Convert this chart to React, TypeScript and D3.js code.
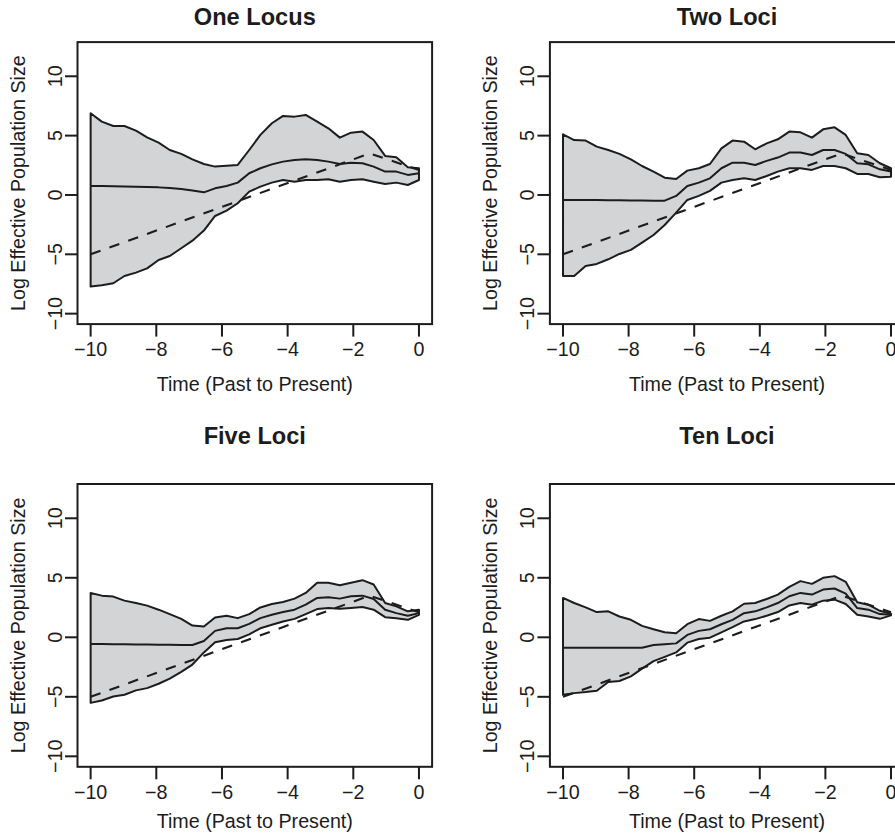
import * as d3 from "d3";

// shared time grid of the estimates (past to present)
const xGrid = [
  -10, -9.66, -9.31, -8.97, -8.62, -8.28, -7.93, -7.59, -7.24, -6.9, -6.55, -6.21, -5.86, -5.52, -5.17,
  -4.83, -4.48, -4.14, -3.79, -3.45, -3.1, -2.76, -2.41, -2.07, -1.72, -1.38, -1.03, -0.69, -0.34, 0,
];

const oneUpper = [
  6.88, 6.18, 5.81, 5.81, 5.42, 4.86, 4.41, 3.79, 3.46, 3.0, 2.61, 2.39, 2.47, 2.53, 3.79,
  5.06, 6.04, 6.66, 6.6, 6.74, 6.18, 5.62, 4.83, 5.25, 5.34, 4.63, 3.29, 3.17, 2.33, 2.25,
];
const oneMedian = [
  0.76, 0.75, 0.74, 0.72, 0.7, 0.67, 0.64, 0.58, 0.5, 0.38, 0.22, 0.56, 0.76, 1.04, 1.83,
  2.25, 2.58, 2.81, 2.95, 3.0, 2.95, 2.81, 2.61, 2.72, 2.67, 2.39, 1.97, 1.97, 1.69, 1.83,
];
const oneLower = [
  -7.72, -7.61, -7.44, -6.83, -6.54, -6.18, -5.48, -5.14, -4.49, -3.85, -3.0, -1.77, -1.32, -0.7, 0.28,
  0.7, 1.04, 1.26, 1.12, 1.26, 1.26, 1.32, 1.12, 1.26, 1.32, 1.12, 0.93, 1.04, 0.84, 1.26,
];

const twoUpper = [
  5.11, 4.63, 4.58, 4.07, 3.79, 3.46, 3.0, 2.44, 1.97, 1.46, 1.35, 2.05, 2.25, 2.61, 3.93,
  4.58, 4.49, 3.85, 4.35, 4.69, 5.34, 5.28, 4.83, 5.53, 5.7, 5.06, 3.51, 3.37, 2.67, 2.25,
];
const twoMedian = [
  -0.42, -0.42, -0.43, -0.43, -0.44, -0.45, -0.46, -0.47, -0.48, -0.48, -0.08, 0.76, 1.04, 1.4, 2.25,
  2.72, 2.72, 2.53, 2.87, 3.15, 3.57, 3.57, 3.37, 3.79, 3.79, 3.46, 2.67, 2.58, 2.16, 1.97,
];
const twoLower = [
  -6.83, -6.83, -5.98, -5.81, -5.42, -4.97, -4.63, -4.02, -3.37, -2.53, -1.49, -0.42, -0.08, 0.34, 1.04,
  1.26, 1.4, 1.26, 1.6, 1.97, 2.25, 2.25, 2.11, 2.44, 2.44, 2.25, 1.77, 1.77, 1.49, 1.54,
];

const fiveUpper = [
  3.73, 3.5, 3.42, 3.08, 2.88, 2.66, 2.32, 1.95, 1.55, 0.99, 0.9, 1.67, 1.81, 1.61, 1.95,
  2.51, 2.8, 2.97, 3.25, 3.73, 4.58, 4.58, 4.38, 4.58, 4.8, 4.44, 2.88, 2.6, 2.18, 2.32,
];
const fiveMedian = [
  -0.56, -0.57, -0.58, -0.59, -0.6, -0.61, -0.62, -0.63, -0.64, -0.65, -0.31, 0.54, 0.76, 0.76, 1.13,
  1.61, 1.89, 2.12, 2.32, 2.74, 3.31, 3.36, 3.25, 3.45, 3.5, 3.22, 2.32, 2.03, 1.81, 2.03,
];
const fiveLower = [
  -5.51, -5.31, -4.97, -4.83, -4.46, -4.27, -3.9, -3.47, -2.91, -2.29, -1.27, -0.42, -0.23, -0.14, 0.25,
  0.76, 1.05, 1.33, 1.55, 1.95, 2.37, 2.46, 2.4, 2.46, 2.54, 2.32, 1.69, 1.61, 1.47, 1.89,
];

const tenUpper = [
  3.31, 2.88, 2.51, 2.12, 2.18, 1.75, 1.47, 0.96, 0.68, 0.42, 0.34, 1.1, 1.53, 1.38, 1.81,
  2.18, 2.82, 2.88, 3.22, 3.59, 4.24, 4.72, 4.49, 5.0, 5.14, 4.66, 2.94, 2.74, 2.23, 1.98,
];
const tenMedian = [
  -0.88, -0.88, -0.88, -0.88, -0.88, -0.88, -0.88, -0.88, -0.65, -0.59, -0.51, 0.2, 0.54, 0.68, 1.1,
  1.47, 2.03, 2.18, 2.51, 2.88, 3.45, 3.73, 3.59, 4.01, 4.1, 3.67, 2.46, 2.32, 1.95, 1.89,
];
const tenLower = [
  -4.83, -4.69, -4.6, -4.49, -3.76, -3.67, -3.28, -2.63, -2.0, -1.64, -1.27, -0.45, -0.14, -0.03, 0.42,
  0.85, 1.33, 1.53, 1.81, 2.12, 2.68, 2.88, 2.74, 3.08, 3.16, 2.8, 1.89, 1.75, 1.55, 1.84,
];

// true demographic history (dashed)
const trueX = [-10, -1.5, 0];
const trueY = [-5, 3.5, 2.1];

const xTicks = [-10, -8, -6, -4, -2, 0];
const yTicks = [-10, -5, 0, 5, 10];

const panels = [
  { title: "One Locus", upper: oneUpper, median: oneMedian, lower: oneLower, col: 0, row: 0 },
  { title: "Two Loci", upper: twoUpper, median: twoMedian, lower: twoLower, col: 1, row: 0 },
  { title: "Five Loci", upper: fiveUpper, median: fiveMedian, lower: fiveLower, col: 0, row: 1 },
  { title: "Ten Loci", upper: tenUpper, median: tenMedian, lower: tenLower, col: 1, row: 1 },
];

const cols = [
  { left: 77.5, right: 432.1 },
  { left: 549.9, right: 904.1 },
];
const rows = [
  { top: 42.1, bottom: 324.1, titleY: 25, xLabelY: 390.8 },
  { top: 484, bottom: 766.8, titleY: 444.3, xLabelY: 828.4 },
];

const ink = "#1c1c1c";
const font = "'Liberation Sans', Arial, Helvetica, sans-serif";
const fmt = (v: number) => (v < 0 ? "\u2212" + Math.abs(v) : String(v));

function Panel({ p }: { p: (typeof panels)[number] }) {
  const c = cols[p.col];
  const r = rows[p.row];
  const x = d3.scaleLinear().domain([-10.4, 0.4]).range([c.left, c.right]);
  const y = d3.scaleLinear().domain([-10.88, 12.88]).range([r.bottom, r.top]);

  const line = d3
    .line<[number, number]>()
    .x((d) => x(d[0]))
    .y((d) => y(d[1]));

  const upperPts = xGrid.map((t, i) => [t, p.upper[i]] as [number, number]);
  const lowerPts = xGrid.map((t, i) => [t, p.lower[i]] as [number, number]).reverse();
  const band = line([...upperPts, ...lowerPts]) + "Z";
  const median = line(xGrid.map((t, i) => [t, p.median[i]] as [number, number]));
  const truth = line(trueX.map((t, i) => [t, trueY[i]] as [number, number]));

  const cx = (c.left + c.right) / 2;
  const cy = (r.top + r.bottom) / 2;

  return (
    <g>
      <path d={band} fill="#d3d4d6" stroke={ink} strokeWidth={2} strokeLinejoin="round" />
      <path d={median ?? ""} fill="none" stroke={ink} strokeWidth={2} strokeLinejoin="round" />
      <path d={truth ?? ""} fill="none" stroke={ink} strokeWidth={2.1} strokeDasharray="10.5 9.5" />

      <rect
        x={c.left}
        y={r.top}
        width={c.right - c.left}
        height={r.bottom - r.top}
        fill="none"
        stroke={ink}
        strokeWidth={2}
      />

      {xTicks.map((t) => (
        <g key={`x${t}`}>
          <line x1={x(t)} x2={x(t)} y1={r.bottom} y2={r.bottom + 12.5} stroke={ink} strokeWidth={2} />
          <text x={x(t)} y={r.bottom + 32} textAnchor="middle" fontSize={19.7} fill={ink}>
            {fmt(t)}
          </text>
        </g>
      ))}

      {yTicks.map((t) => (
        <g key={`y${t}`}>
          <line x1={c.left - 12.5} x2={c.left} y1={y(t)} y2={y(t)} stroke={ink} strokeWidth={2} />
          <text
            transform={`translate(${c.left - 15.8},${y(t)}) rotate(-90)`}
            textAnchor="middle"
            fontSize={19.7}
            fill={ink}
          >
            {fmt(t)}
          </text>
        </g>
      ))}

      <text x={cx} y={r.titleY} textAnchor="middle" fontSize={23.6} fontWeight="bold" fill={ink}>
        {p.title}
      </text>
      <text x={cx} y={r.xLabelY} textAnchor="middle" fontSize={19.7} fill={ink}>
        Time (Past to Present)
      </text>
      <text
        transform={`translate(${c.left - 52.5},${cy}) rotate(-90)`}
        textAnchor="middle"
        fontSize={19.7}
        fill={ink}
      >
        Log Effective Population Size
      </text>
    </g>
  );
}

export default function App() {
  return (
    <>
      <style>{`body{margin:0;background:#fff;}`}</style>
      <svg width={895} height={833} style={{ display: "block", fontFamily: font }}>
        <rect width={895} height={833} fill="#fff" />
        {panels.map((p) => (
          <Panel key={p.title} p={p} />
        ))}
      </svg>
    </>
  );
}
